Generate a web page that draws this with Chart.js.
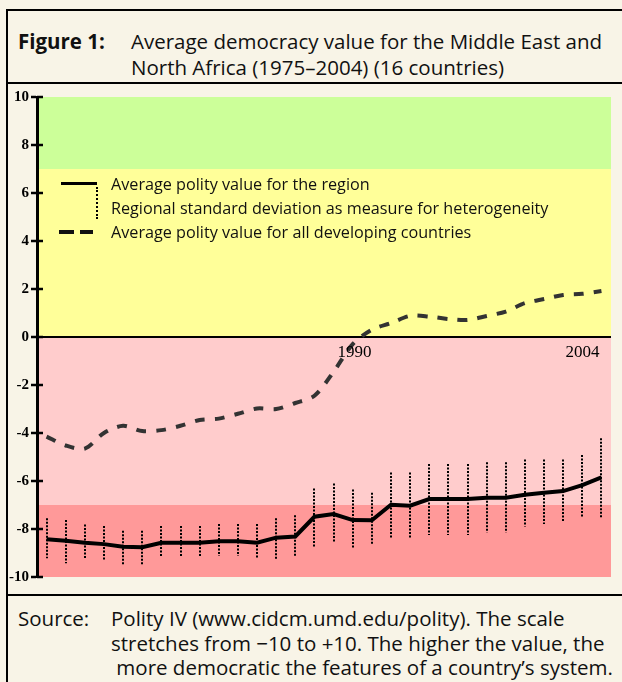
<!DOCTYPE html>
<html>
<head>
<meta charset="utf-8">
<script src="https://cdn.jsdelivr.net/npm/chart.js@4.4.1/dist/chart.umd.min.js"></script>
<style>
  html, body { margin: 0; padding: 0; }
  body {
    width: 622px; height: 682px; overflow: hidden; position: relative;
    background: #f8f4e7; font-family: 'Open Sans', sans-serif; color: #111;
  }
  .frame { position: absolute; left: 6px; top: 9px; width: 700px; height: 700px;
    border: 2px solid #000; box-sizing: border-box; }
  .rule { position: absolute; left: 6px; width: 640px; height: 2px; background: #000; }
  .txt { position: absolute; font-size: 20.5px; line-height: 26px; white-space: nowrap; }
  .legend-txt { position: absolute; left: 111px; font-size: 16.2px; line-height: 24px; white-space: nowrap; color: #111; }
  #wrap { position: absolute; left: 7px; top: 84px; width: 610px; height: 510px; }
</style>
</head>
<body>
<div class="frame"></div>
<div class="rule" style="top:82px"></div>
<div class="rule" style="top:594px"></div>

<div class="txt" style="left:18px; top:28px; font-weight:bold;">Figure 1:</div>
<div class="txt" style="left:131px; top:28px;">Average democracy value for the Middle East and<br>North Africa (1975–2004) (16 countries)</div>

<div id="wrap"><canvas id="chart" width="610" height="510"></canvas></div>

<!-- legend -->
<div style="position:absolute; left:61px; top:182px; width:36px; height:3px; background:#000;"></div>
<div style="position:absolute; left:96px; top:187px; height:32px; border-left:2px dotted #000;"></div>
<div style="position:absolute; left:59px; top:230px; width:15px; height:4px; background:#111;"></div>
<div style="position:absolute; left:80px; top:230px; width:13px; height:4px; background:#111;"></div>
<div class="legend-txt" style="top:172px;">Average polity value for the region<br>Regional standard deviation as measure for heterogeneity<br>Average polity value for all developing countries</div>

<div class="txt" style="left:18px; top:606px; line-height:24.5px;">Source:</div>
<div class="txt" style="left:111px; top:606px; line-height:24.5px;">Polity IV (www.cidcm.umd.edu/polity). The scale<br>stretches from −10 to +10. The higher the value, the<br>&nbsp;more democratic the features of a country’s system.</div>

<script>
// ---- data ----
var years = [1975, 1976, 1977, 1978, 1979, 1980, 1981, 1982, 1983, 1984,
             1985, 1986, 1987, 1988, 1989, 1990, 1991, 1992, 1993, 1994,
             1995, 1996, 1997, 1998, 1999, 2000, 2001, 2002, 2003, 2004];

var regionAvg = [-8.43, -8.49, -8.57, -8.63, -8.74, -8.76, -8.57, -8.57, -8.57, -8.51,
                 -8.51, -8.57, -8.36, -8.31, -7.49, -7.38, -7.63, -7.64, -6.99, -7.03,
                 -6.75, -6.75, -6.75, -6.70, -6.70, -6.57, -6.49, -6.42, -6.17, -5.85];

var sdUpper = [-7.55, -7.63, -7.81, -7.88, -8.07, -8.07, -7.88, -7.88, -7.88, -7.79,
               -7.79, -7.79, -7.55, -7.43, -6.31, -6.10, -6.35, -6.49, -5.65, -5.65,
               -5.29, -5.29, -5.29, -5.22, -5.22, -5.10, -5.10, -5.10, -4.92, -4.22];

var sdLower = [-9.22, -9.43, -9.25, -9.32, -9.49, -9.49, -9.18, -9.18, -9.18, -9.13,
               -9.13, -9.24, -9.24, -9.13, -8.74, -8.53, -8.78, -8.67, -8.36, -8.36,
               -8.25, -8.25, -8.25, -8.15, -8.15, -7.90, -7.79, -7.67, -7.49, -7.55];

var developing = [-4.15, -4.52, -4.65, -4.00, -3.70, -3.92, -3.88, -3.70, -3.46, -3.40,
                  -3.20, -2.98, -3.00, -2.75, -2.45, -1.45, -0.30, 0.30, 0.58, 0.88,
                  0.85, 0.75, 0.71, 0.875, 1.06, 1.41, 1.58, 1.75, 1.80, 1.92];

var yearLabels = ['1990', '2004'];

// background zones (polity value ranges)
var zoneFrom = [7, 0, -7, -10];
var zoneTo = [10, 7, 0, -7];
var zoneColors = ['#ccff99', '#ffff99', '#ffcccc', '#ff9999'];

function pairs(vals) {
  return years.map(function(y, i) { return { x: y, y: vals[i] }; });
}

var zonesPlugin = {
  id: 'zones',
  beforeDraw: function(chart) {
    var ctx = chart.ctx, a = chart.chartArea, ys = chart.scales.y;
    ctx.save();
    for (var i = 0; i < zoneFrom.length; i++) {
      var top = ys.getPixelForValue(zoneTo[i]);
      var bot = ys.getPixelForValue(zoneFrom[i]);
      ctx.fillStyle = zoneColors[i];
      ctx.fillRect(a.left, top, a.right - a.left, bot - top);
    }
    ctx.restore();
  }
};

var errorBarsPlugin = {
  id: 'sdbars',
  beforeDatasetsDraw: function(chart) {
    var ctx = chart.ctx, xs = chart.scales.x, ys = chart.scales.y;
    ctx.save();
    ctx.strokeStyle = '#000';
    ctx.lineWidth = 2;
    ctx.setLineDash([2, 1.5]);
    years.forEach(function(yr, i) {
      var x = Math.round(xs.getPixelForValue(yr));
      ctx.beginPath();
      ctx.moveTo(x, ys.getPixelForValue(sdUpper[i]));
      ctx.lineTo(x, ys.getPixelForValue(sdLower[i]));
      ctx.stroke();
    });
    ctx.restore();
  }
};

var extrasPlugin = {
  id: 'extras',
  afterDraw: function(chart) {
    var ctx = chart.ctx, xs = chart.scales.x, ys = chart.scales.y, a = chart.chartArea;
    ctx.save();
    // inner half of the tick marks
    ctx.strokeStyle = '#000';
    ctx.lineWidth = 2.5;
    ys.ticks.forEach(function(t) {
      var y = ys.getPixelForValue(t.value);
      ctx.beginPath();
      ctx.moveTo(a.left, y);
      ctx.lineTo(a.left + 6, y);
      ctx.stroke();
    });
    // year labels under the zero line
    ctx.fillStyle = '#000';
    ctx.font = '17px "Liberation Serif", "Times New Roman", serif';
    var yb = ys.getPixelForValue(0) + 20;
    ctx.textAlign = 'left';
    ctx.fillText(yearLabels[0], xs.getPixelForValue(1990) + 4, yb);
    ctx.textAlign = 'right';
    ctx.fillText(yearLabels[1], xs.getPixelForValue(2004) - 2, yb);
    ctx.restore();
  }
};

new Chart(document.getElementById('chart').getContext('2d'), {
  type: 'line',
  data: {
    datasets: [{
      label: 'Average polity value for the region',
      data: pairs(regionAvg),
      borderColor: '#000',
      borderWidth: 4,
      pointRadius: 0,
      tension: 0,
      order: 1
    }, {
      label: 'Average polity value for all developing countries',
      data: pairs(developing),
      borderColor: '#333',
      borderWidth: 4,
      borderDash: [10, 10],
      pointRadius: 0,
      tension: 0.3,
      order: 2
    }]
  },
  options: {
    responsive: false,
    animation: false,
    layout: { padding: { left: 0, right: 6, top: 13, bottom: 17 } },
    plugins: { legend: { display: false }, tooltip: { enabled: false } },
    scales: {
      x: { type: 'linear', min: 1974.5, max: 2004.5, display: false },
      y: {
        min: -10, max: 10,
        afterFit: function(scale) { scale.width = 30; },
        border: { display: true, color: '#000', width: 3 },
        grid: {
          color: function(c) { return c.tick && c.tick.value === 0 ? '#000' : 'rgba(0,0,0,0)'; },
          lineWidth: 2,
          tickColor: '#000',
          tickLength: 6,
          tickWidth: 2.5
        },
        ticks: {
          stepSize: 2,
          color: '#000',
          padding: 2,
          font: { family: '"Liberation Serif", "Times New Roman", serif', size: 15, weight: 'bold' }
        }
      }
    }
  },
  plugins: [zonesPlugin, errorBarsPlugin, extrasPlugin]
});
</script>
</body>
</html>
